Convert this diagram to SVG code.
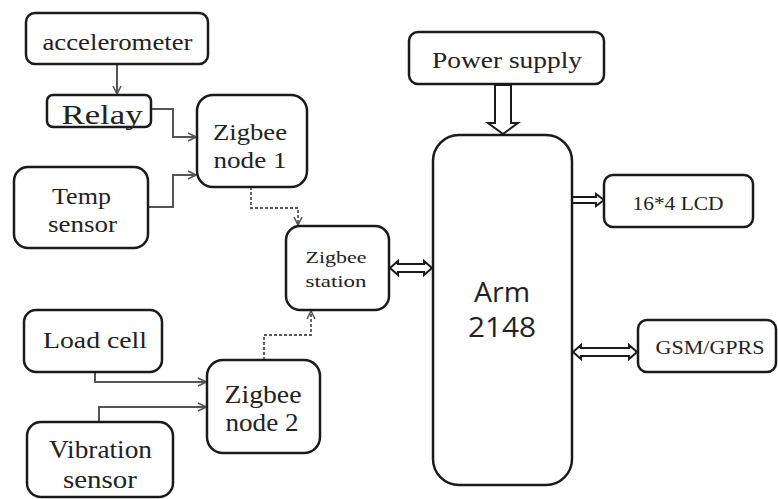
<svg xmlns="http://www.w3.org/2000/svg" width="778" height="499" viewBox="0 0 778 499">
<style>
.box{fill:#fff;stroke:#1a1a1a;stroke-width:2.5}
.t{font-family:"Liberation Serif",serif;fill:#222;text-anchor:middle}
.s{font-family:"Open Sans","DejaVu Sans",sans-serif;fill:#222;text-anchor:middle}
.c{fill:none;stroke:#555;stroke-width:2}
.d{fill:none;stroke:#555;stroke-width:1.8;stroke-dasharray:3 2}
.h{fill:#fff;stroke:#1a1a1a;stroke-width:2;stroke-linejoin:miter}
</style>
<defs>
<marker id="ah" viewBox="0 0 10 10" refX="9" refY="5" markerWidth="10" markerHeight="10" markerUnits="userSpaceOnUse" orient="auto">
<path d="M1,1 L9,5 L1,9" fill="none" stroke="#555" stroke-width="1.6"/>
</marker>
</defs>
<rect width="778" height="499" fill="#fff"/>
<g id="connectors">
<path class="c" d="M117,64 V94" marker-end="url(#ah)"/>
<path class="c" d="M151,109 H173 V137 H196" marker-end="url(#ah)"/>
<path class="c" d="M148,207 H173 V175 H196" marker-end="url(#ah)"/>
<path class="d" d="M251,187 V208 H298 V225" marker-end="url(#ah)"/>
<path class="c" d="M95,372 V382 H206" marker-end="url(#ah)"/>
<path class="c" d="M99,422 V407 H206" marker-end="url(#ah)"/>
<path class="d" d="M264,360 V335 H311 V311" marker-end="url(#ah)"/>
<polygon class="h" points="495,85 511,85 511,123 518,123 503,134 488,123 495,123"/>
<polygon class="h" points="572,197 596,197 596,194 604,200 596,206 596,203 572,203"/>
<polygon class="h" points="390,268 398,261 398,264 424,264 424,261 432,268 424,275 424,272 398,272 398,275"/>
<polygon class="h" points="573,352 581,345 581,348 629,348 629,345 637,352 629,359 629,356 581,356 581,359"/>
</g>
<g id="accelerometer"><rect class="box" x="26" y="13" width="182" height="51" rx="9"/><text class="t" x="117.5" y="50" font-size="24" textLength="150" lengthAdjust="spacingAndGlyphs">accelerometer</text></g>
<g id="relay"><rect class="box" x="47" y="95" width="104" height="32" rx="6"/><text class="t" x="102" y="124" font-size="27" textLength="81" lengthAdjust="spacingAndGlyphs">Relay</text></g>
<g id="zigbee-node-1"><rect class="box" x="197" y="95" width="110" height="92" rx="16"/><text class="t" x="250" y="140" font-size="24" textLength="74" lengthAdjust="spacingAndGlyphs">Zigbee</text><text class="t" x="250" y="168" font-size="24" textLength="73" lengthAdjust="spacingAndGlyphs">node 1</text></g>
<g id="temp-sensor"><rect class="box" x="14" y="167" width="134" height="81" rx="14"/><text class="t" x="81.5" y="204" font-size="24" textLength="59" lengthAdjust="spacingAndGlyphs">Temp</text><text class="t" x="82.5" y="232" font-size="24" textLength="69" lengthAdjust="spacingAndGlyphs">sensor</text></g>
<g id="zigbee-station"><rect class="box" x="286" y="226" width="103" height="84" rx="14"/><text class="t" x="336" y="263" font-size="17" textLength="61" lengthAdjust="spacingAndGlyphs">Zigbee</text><text class="t" x="336" y="287" font-size="17" textLength="61" lengthAdjust="spacingAndGlyphs">station</text></g>
<g id="load-cell"><rect class="box" x="24" y="310" width="138" height="62" rx="12"/><text class="t" x="95" y="348" font-size="24" textLength="104" lengthAdjust="spacingAndGlyphs">Load cell</text></g>
<g id="zigbee-node-2"><rect class="box" x="207" y="360" width="113" height="93" rx="16"/><text class="t" x="263" y="403" font-size="25" textLength="77" lengthAdjust="spacingAndGlyphs">Zigbee</text><text class="t" x="262" y="431" font-size="25" textLength="73" lengthAdjust="spacingAndGlyphs">node 2</text></g>
<g id="vibration-sensor"><rect class="box" x="27" y="422" width="146" height="75" rx="14"/><text class="t" x="100.5" y="458" font-size="25" textLength="103" lengthAdjust="spacingAndGlyphs">Vibration</text><text class="t" x="100" y="488" font-size="25" textLength="74" lengthAdjust="spacingAndGlyphs">sensor</text></g>
<g id="power-supply"><rect class="box" x="409" y="32" width="195" height="52" rx="9"/><text class="t" x="507" y="68" font-size="23" textLength="150" lengthAdjust="spacingAndGlyphs">Power supply</text></g>
<g id="arm"><rect class="box" x="433" y="135" width="139" height="350" rx="26"/><text class="s" x="502" y="302" font-size="27" textLength="56" lengthAdjust="spacingAndGlyphs">Arm</text><text class="s" x="502" y="337" font-size="27" textLength="68" lengthAdjust="spacingAndGlyphs">2148</text></g>
<g id="lcd"><rect class="box" x="604" y="175" width="149" height="52" rx="9"/><text class="t" x="678" y="210" font-size="18" textLength="91" lengthAdjust="spacingAndGlyphs">16*4 LCD</text></g>
<g id="gsm"><rect class="box" x="638" y="320" width="138" height="52" rx="9"/><text class="t" x="710" y="354" font-size="18" textLength="109" lengthAdjust="spacingAndGlyphs">GSM/GPRS</text></g>
</svg>
